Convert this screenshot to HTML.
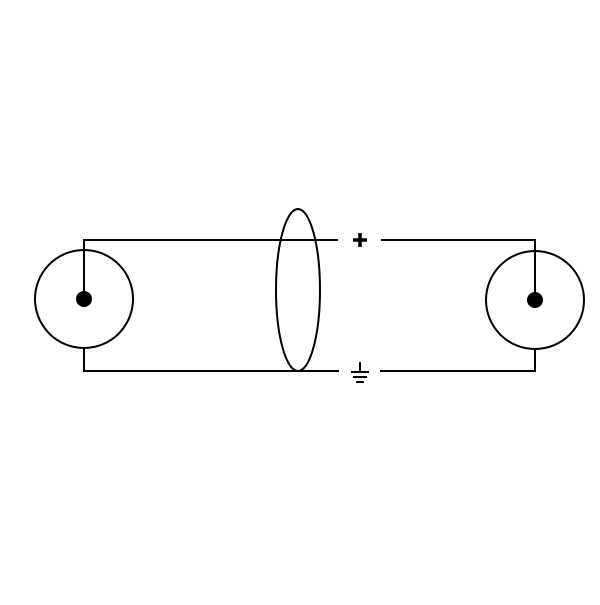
<!DOCTYPE html>
<html><head><style>body{margin:0;background:#fff}</style></head><body>
<svg width="600" height="600" viewBox="0 0 600 600" xmlns="http://www.w3.org/2000/svg">
<g fill="none" stroke="#000" stroke-width="2">
<circle cx="84" cy="299" r="49"/>
<circle cx="535" cy="300" r="49"/>
<polyline points="84,299 84,240 338,240"/>
<polyline points="84,348 84,371 339,371"/>
<polyline points="381,240 535,240 535,300"/>
<polyline points="380,371 535,371 535,349"/>
<ellipse cx="298" cy="290" rx="22" ry="81"/>
<line x1="360" y1="362" x2="360" y2="371"/>
<line x1="351" y1="372" x2="369" y2="372"/>
<line x1="353" y1="377" x2="367" y2="377"/>
<line x1="356" y1="382" x2="364" y2="382"/>
</g>
<g stroke="#000" stroke-width="3.5">
<line x1="353" y1="240" x2="367" y2="240"/>
<line x1="360" y1="233" x2="360" y2="247"/>
</g>
<circle cx="84" cy="299" r="8"/>
<circle cx="535" cy="300" r="8"/>
</svg>
</body></html>
